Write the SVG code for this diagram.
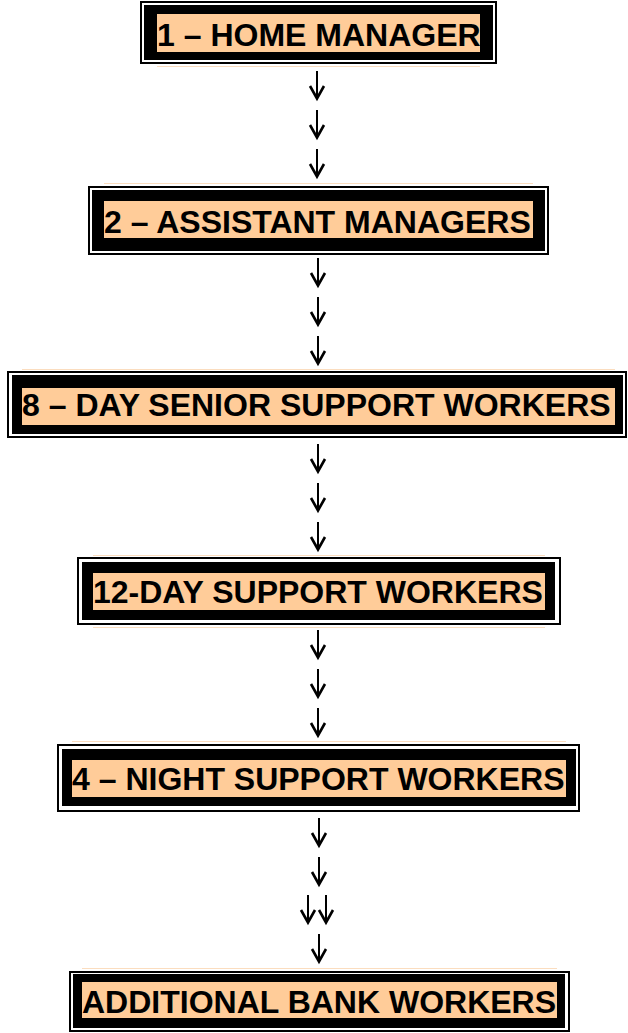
<svg xmlns="http://www.w3.org/2000/svg" xmlns:xlink="http://www.w3.org/1999/xlink" width="628" height="1033" viewBox="0 0 628 1033">
<style>
.outer{fill:none;stroke:#000;stroke-width:2}
.band{fill:#000}
.peach{fill:#FFCC99}
.hl{fill:#FBDDBF}
.lbl{font-family:"Liberation Sans",Arial,sans-serif;font-weight:bold;font-size:32px;fill:#000}
.stem{fill:none;stroke:#000;stroke-width:2}
.head{fill:none;stroke:#000;stroke-width:2.6;stroke-linejoin:miter;stroke-miterlimit:10}
</style>
<defs>
<g id="arr">
<path class="stem" d="M0,0 V27"/>
<path class="head" d="M-7,15 L0,27.5 L7,15"/>
</g>
</defs>
<rect width="628" height="1033" fill="#fff"/>

<g id="node1">
<rect class="outer" x="141" y="2" width="355" height="61"/>
<rect class="band" x="144" y="5" width="349" height="55"/>
<rect class="peach" x="157" y="14" width="323" height="38"/>
<rect class="hl" x="157" y="66" width="323" height="1"/>
<text class="lbl" x="157" y="46">1 – HOME MANAGER</text>
</g>

<g id="node2">
<rect class="hl" x="104" y="183" width="429" height="1"/>
<rect class="outer" x="89" y="187" width="459" height="67"/>
<rect class="band" x="92" y="190" width="453" height="61"/>
<rect class="peach" x="104" y="201" width="429" height="37"/>
<text class="lbl" x="104" y="233">2 – ASSISTANT MANAGERS</text>
</g>

<g id="node3">
<rect class="hl" x="22" y="369" width="593" height="1"/>
<rect class="outer" x="8" y="372" width="618" height="65"/>
<rect class="band" x="12" y="375" width="611" height="59"/>
<rect class="peach" x="22" y="388" width="593" height="37"/>
<text class="lbl" x="22" y="416">8 – DAY SENIOR SUPPORT WORKERS</text>
</g>

<g id="node4">
<rect class="hl" x="93" y="555" width="452" height="1"/>
<rect class="outer" x="78" y="558" width="482" height="66"/>
<rect class="band" x="82" y="562" width="473" height="58"/>
<rect class="peach" x="93" y="573" width="452" height="37"/>
<rect class="hl" x="93" y="627" width="452" height="1"/>
<text class="lbl" x="93" y="603">12-DAY SUPPORT WORKERS</text>
</g>

<g id="node5">
<rect class="hl" x="72" y="741" width="494" height="1"/>
<rect class="outer" x="58" y="745" width="521" height="66"/>
<rect class="band" x="62" y="749" width="514" height="57"/>
<rect class="peach" x="72" y="760" width="494" height="37"/>
<text class="lbl" x="72" y="790">4 – NIGHT SUPPORT WORKERS</text>
</g>

<g id="node6">
<rect class="hl" x="82" y="968" width="475" height="1"/>
<rect class="outer" x="70" y="972" width="499" height="59"/>
<rect class="band" x="73" y="974" width="492" height="54"/>
<rect class="peach" x="82" y="982" width="475" height="36"/>
<text class="lbl" x="82" y="1013">ADDITIONAL BANK WORKERS</text>
</g>

<g id="connectors">
<use xlink:href="#arr" x="317" y="71"/>
<use xlink:href="#arr" x="317" y="110"/>
<use xlink:href="#arr" x="317" y="149"/>

<use xlink:href="#arr" x="318" y="258"/>
<use xlink:href="#arr" x="318" y="297"/>
<use xlink:href="#arr" x="318" y="336"/>

<use xlink:href="#arr" x="318" y="444"/>
<use xlink:href="#arr" x="318" y="483"/>
<use xlink:href="#arr" x="318" y="522"/>

<use xlink:href="#arr" x="318" y="630"/>
<use xlink:href="#arr" x="318" y="669"/>
<use xlink:href="#arr" x="318" y="708"/>

<use xlink:href="#arr" x="319" y="818"/>
<use xlink:href="#arr" x="319" y="857"/>
<use xlink:href="#arr" x="308" y="895"/>
<use xlink:href="#arr" x="326" y="895"/>
<use xlink:href="#arr" x="319" y="934"/>
</g>
</svg>
